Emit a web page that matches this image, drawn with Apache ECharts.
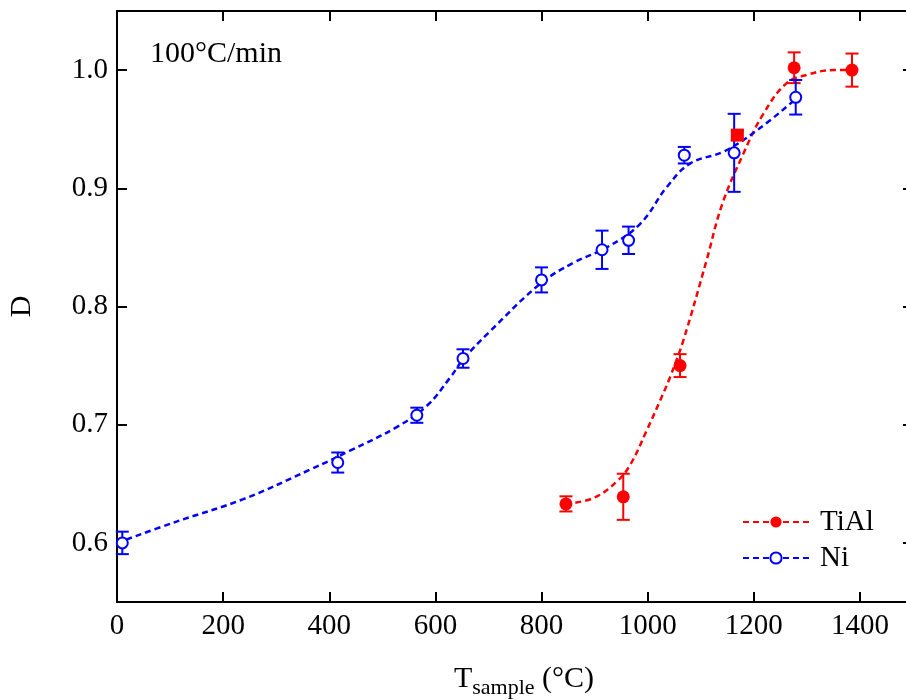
<!DOCTYPE html>
<html style="height: 100%">
<head>
    <meta charset="utf-8">
    <script src="https://cdn.jsdelivr.net/npm/echarts@6/dist/echarts.min.js"></script>
    <style>
        html, body { margin: 0; padding: 0; background: #fff; }
    </style>
</head>
<body>
<div id="container" style="width: 906px; height: 700px;"></div>
<script type="text/javascript">
    // measured points: [T, D, error]
    var tialPoints = [[846, 0.633, 0.0064], [954, 0.639, 0.0195], [1061, 0.750, 0.0097], [1169, 0.945, 0.004], [1276, 1.002, 0.013], [1385, 1.000, 0.014]];
    var tialMarker = ['circle', 'circle', 'circle', 'rect', 'circle', 'circle'];
    var niPoints = [[10, 0.600, 0.0095], [416, 0.668, 0.0085], [565, 0.708, 0.0064], [652, 0.756, 0.0078], [800, 0.8225, 0.0106], [914, 0.848, 0.0162], [964, 0.856, 0.0116], [1069, 0.928, 0.007], [1163, 0.930, 0.033], [1279, 0.977, 0.0146]];
    // fitted curves
    var tialFit = [[845, 0.633], [898, 0.638], [942, 0.652], [967, 0.666], [998, 0.695], [1023, 0.720], [1042, 0.740], [1067, 0.771], [1111, 0.839], [1140, 0.886], [1180, 0.929], [1218, 0.963], [1262, 0.989], [1300, 0.996], [1350, 1.0], [1388, 1.0]];
    var niFit = [[0, 0.600], [112, 0.618], [238, 0.637], [364, 0.662], [439, 0.678], [527, 0.698], [584, 0.716], [628, 0.740], [652, 0.755], [703, 0.779], [797, 0.819], [860, 0.837], [923, 0.850], [986, 0.870], [1036, 0.901], [1080, 0.921], [1143, 0.931], [1206, 0.949], [1275, 0.974]];
    var xTicks = [0, 200, 400, 600, 800, 1000, 1200, 1400];

    var red = '#ff0000';
    var blue = '#0000ff';
    var font = '"Liberation Serif", "Times New Roman", serif';

    function errorBars(color) {
        return function (params, api) {
            var x = api.value(0), y = api.value(1), e = api.value(2);
            var top = api.coord([x, y + e]);
            var bot = api.coord([x, y - e]);
            var w = 6.5;
            var st = { stroke: color, lineWidth: 2 };
            return {
                type: 'group',
                children: [
                    { type: 'line', shape: { x1: top[0], y1: top[1], x2: bot[0], y2: bot[1] }, style: st },
                    { type: 'line', shape: { x1: top[0] - w, y1: top[1], x2: top[0] + w, y2: top[1] }, style: st },
                    { type: 'line', shape: { x1: bot[0] - w, y1: bot[1], x2: bot[0] + w, y2: bot[1] }, style: st }
                ]
            };
        };
    }

    function tick() {
        return { show: true, inside: true, length: 10, lineStyle: { color: '#000', width: 2 } };
    }
    var axisLine = { show: true, onZero: false, lineStyle: { color: '#000', width: 2 } };

    var myChart = echarts.init(document.getElementById('container'));
    var option = {
        animation: false,
        backgroundColor: '#fff',
        textStyle: { fontFamily: font },
        grid: { left: 117, right: -7, top: 11, bottom: 98, outerBoundsMode: 'none', containLabel: false },
        graphic: [{
            type: 'text', left: 150, top: 39,
            style: { text: '100°C/min', font: '30px ' + font, fill: '#000' }
        }],
        legend: {
            data: ['TiAl', 'Ni'],
            orient: 'vertical',
            left: 742, top: 504,
            padding: 0,
            itemGap: 0,
            itemWidth: 66,
            itemHeight: 14,
            textStyle: { fontSize: 29, fontFamily: font, color: '#000', lineHeight: 36, padding: [0, 0, 0, 6] }
        },
        xAxis: [
            {
                type: 'value', min: 0, max: 1500, interval: 200,
                name: '{t|T}{s|sample}{t| (°C)}',
                nameLocation: 'middle', nameGap: 62,
                nameTextStyle: {
                    padding: [0, 0, 0, 18],
                    rich: {
                        t: { fontSize: 30, fontFamily: font, color: '#000', verticalAlign: 'bottom' },
                        s: { fontSize: 22, fontFamily: font, color: '#000', verticalAlign: 'bottom', padding: [0, 0, -5, 0] }
                    }
                },
                axisLine: axisLine,
                axisTick: tick(),
                splitLine: { show: false },
                axisLabel: {
                    fontSize: 29, color: '#000', fontFamily: font, margin: 10,
                    showMaxLabel: false,
                    formatter: function (v) { return xTicks.indexOf(v) >= 0 ? String(v) : ''; }
                }
            },
            {
                type: 'value', min: 0, max: 1500, interval: 200, position: 'top',
                axisLine: axisLine,
                axisTick: tick(),
                splitLine: { show: false },
                axisLabel: { show: false }
            }
        ],
        yAxis: [
            {
                type: 'value', min: 0.55, max: 1.05, splitNumber: 5,
                name: 'D', nameLocation: 'middle', nameGap: 80, nameRotate: 90,
                nameTextStyle: { fontSize: 30, fontFamily: font, color: '#000' },
                axisLine: axisLine,
                axisTick: tick(),
                splitLine: { show: false },
                axisLabel: {
                    fontSize: 29, color: '#000', fontFamily: font, margin: 9,
                    showMinLabel: false, showMaxLabel: false,
                    formatter: function (v) { return v.toFixed(1); }
                }
            },
            {
                type: 'value', min: 0.55, max: 1.05, splitNumber: 5, position: 'right',
                axisLine: axisLine,
                axisTick: tick(),
                splitLine: { show: false },
                axisLabel: { show: false }
            }
        ],
        series: [
            {
                name: 'TiAl', type: 'line', data: tialFit, smooth: 0.4,
                symbol: 'circle', showSymbol: false, color: red,
                lineStyle: { color: red, width: 2.5, type: [6, 4] }, z: 3
            },
            {
                name: 'Ni', type: 'line', data: niFit, smooth: 0.4,
                symbol: 'emptyCircle', showSymbol: false, color: blue,
                lineStyle: { color: blue, width: 2.5, type: [6, 4] }, z: 3
            },
            {
                name: 'TiAl', type: 'custom', data: tialPoints,
                renderItem: errorBars(red), z: 4
            },
            {
                name: 'Ni', type: 'custom', data: niPoints,
                renderItem: errorBars(blue), z: 4
            },
            {
                name: 'TiAl', type: 'scatter',
                data: tialPoints.map(function (p, i) { return { value: p, symbol: tialMarker[i] }; }),
                symbolSize: 13, itemStyle: { color: red, opacity: 1 }, z: 5
            },
            {
                name: 'Ni', type: 'scatter', data: niPoints,
                symbol: 'circle', symbolSize: 11,
                itemStyle: { color: '#fff', borderColor: blue, borderWidth: 2, opacity: 1 }, z: 5
            }
        ]
    };
    myChart.setOption(option);
</script>
</body>
</html>
